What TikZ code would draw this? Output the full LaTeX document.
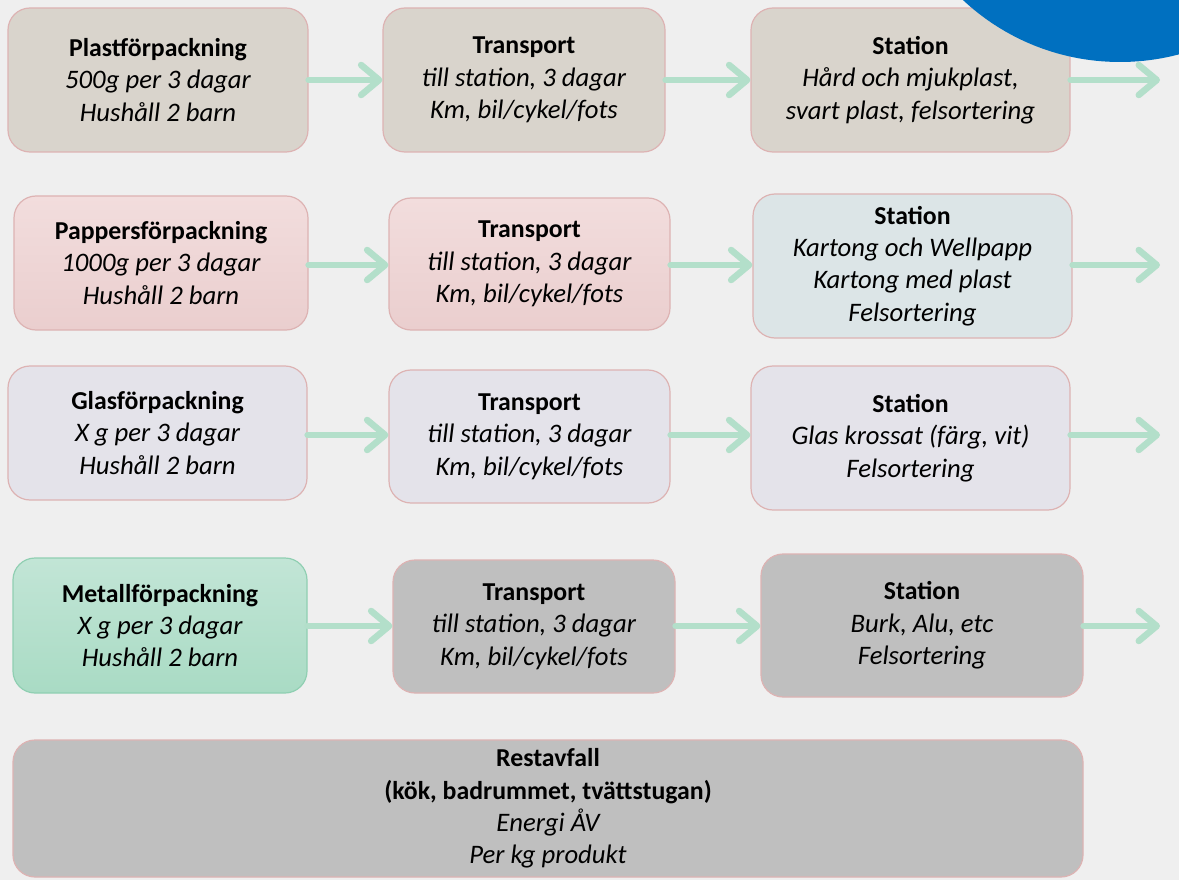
\documentclass[tikz,border=0pt]{standalone}
\usepackage{fontspec}
\setmainfont{Carlito}
\usetikzlibrary{arrows.meta}

% palette
\definecolor{bg}{HTML}{EFEFEF}
\definecolor{tanfill}{HTML}{D9D4CC}
\definecolor{pinktop}{HTML}{F2DDDD}
\definecolor{pinkbot}{HTML}{EACECE}
\definecolor{bluegrey}{HTML}{DCE5E7}
\definecolor{lavender}{HTML}{E4E3EA}
\definecolor{greentop}{HTML}{C2E5D6}
\definecolor{greenbot}{HTML}{A9DBC4}
\definecolor{greenedge}{HTML}{90CFB2}
\definecolor{greyfill}{HTML}{BFBFBF}
\definecolor{rimpink}{HTML}{DDB3B3}
\definecolor{flowgreen}{HTML}{B3DFCA}
\definecolor{badge}{HTML}{0070C0}

\tikzset{
  box/.style={draw=rimpink, line width=1.2pt, rounded corners=22pt,
    align=center, inner sep=0pt, font=\fontsize{25.8}{32.3}\selectfont},
  tanbox/.style={box, fill=tanfill},
  pinkbox/.style={box, top color=pinktop, bottom color=pinkbot},
  bluebox/.style={box, fill=bluegrey},
  lavbox/.style={box, fill=lavender},
  greenbox/.style={box, draw=greenedge, top color=greentop, bottom color=greenbot},
  greybox/.style={box, fill=greyfill},
  flow/.style={draw=flowgreen, line width=6.5pt, line cap=round,
    -{Straight Barb[length=18pt, width=30pt, round]}},
}

\newcommand{\hd}[1]{\textbf{#1}}
\newcommand{\sub}[1]{{\fontsize{26.7}{32.3}\selectfont\itshape #1}}

\begin{document}
\begin{tikzpicture}[x=1pt, y=-1pt]
  \fill[bg] (0,0) rectangle (1179,880);
  \useasboundingbox (0,0) rectangle (1179,880);

  % plastic
  \node[tanbox, minimum width=300pt, minimum height=144pt] (a1) at (158,80)
    {\hd{Plastförpackning}\\ \sub{500g per 3 dagar}\\ \sub{Hushåll 2 barn}};
  \node[tanbox, minimum width=282pt, minimum height=144pt] (b1) at (524,80)
    {\hd{Transport}\\ \sub{till station, 3 dagar}\\ \sub{Km, bil/cykel/fots}};
  \node[tanbox, minimum width=319pt, minimum height=144pt] (c1) at (910.5,80)
    {\hd{Station}\\ \sub{Hård och mjukplast,}\\ \sub{svart plast, felsortering}};

  % paper
  \node[pinkbox, minimum width=294pt, minimum height=134pt] (a2) at (161,263)
    {\hd{Pappersförpackning}\\ \sub{1000g per 3 dagar}\\ \sub{Hushåll 2 barn}};
  \node[pinkbox, minimum width=281pt, minimum height=132pt] (b2) at (529.5,264)
    {\hd{Transport}\\ \sub{till station, 3 dagar}\\ \sub{Km, bil/cykel/fots}};
  \node[bluebox, minimum width=319pt, minimum height=144pt] (c2) at (912.5,266)
    {\hd{Station}\\ \sub{Kartong och Wellpapp}\\ \sub{Kartong med plast}\\ \sub{Felsortering}};

  % glass
  \node[lavbox, minimum width=299pt, minimum height=134pt] (a3) at (157.5,433)
    {\hd{Glasförpackning}\\ \sub{X g per 3 dagar}\\ \sub{Hushåll 2 barn}};
  \node[lavbox, minimum width=281pt, minimum height=133pt] (b3) at (529.5,436.5)
    {\hd{Transport}\\ \sub{till station, 3 dagar}\\ \sub{Km, bil/cykel/fots}};
  \node[lavbox, minimum width=319pt, minimum height=144pt] (c3) at (910.5,438)
    {\hd{Station}\\ \sub{Glas krossat (färg, vit)}\\ \sub{Felsortering}};

  % metal
  \node[greenbox, minimum width=294pt, minimum height=135pt] (a4) at (160,625.5)
    {\hd{Metallförpackning}\\ \sub{X g per 3 dagar}\\ \sub{Hushåll 2 barn}};
  \node[greybox, minimum width=282pt, minimum height=133pt] (b4) at (534,626.5)
    {\hd{Transport}\\ \sub{till station, 3 dagar}\\ \sub{Km, bil/cykel/fots}};
  \node[greybox, minimum width=322pt, minimum height=143pt] (c4) at (922,625.5)
    {\hd{Station}\\ \sub{Burk, Alu, etc}\\ \sub{Felsortering}};

  % residual waste
  \node[greybox, minimum width=1070pt, minimum height=137pt] (r) at (548,808.5)
    {\hd{Restavfall}\\ \hd{(kök, badrummet, tvättstugan)}\\ \sub{Energi ÅV}\\ \sub{Per kg produkt}};

  % outgoing ends
  \coordinate (o1) at (1160,80);
  \coordinate (o2) at (1160,265);
  \coordinate (o3) at (1160,435);
  \coordinate (o4) at (1160,626);

  % flow arrows, kept level with each row
  \draw[flow] (a1.east) -- (a1.east -| b1.west);
  \draw[flow] (b1.east) -- (b1.east -| c1.west);
  \draw[flow] (c1.east) -- (o1);
  \draw[flow] (a2.east |- o2) -- (o2 -| b2.west);
  \draw[flow] (b2.east |- o2) -- (o2 -| c2.west);
  \draw[flow] (c2.east |- o2) -- (o2);
  \draw[flow] (a3.east |- o3) -- (o3 -| b3.west);
  \draw[flow] (b3.east |- o3) -- (o3 -| c3.west);
  \draw[flow] (c3.east |- o3) -- (o3);
  \draw[flow] (a4.east |- o4) -- (o4 -| b4.west);
  \draw[flow] (b4.east |- o4) -- (o4 -| c4.west);
  \draw[flow] (c4.east |- o4) -- (o4);

  % corner badge
  \begin{scope}
    \clip (0,0) rectangle (1179,880);
    \fill[badge] (1120,-168) circle (230);
  \end{scope}
\end{tikzpicture}
\end{document}
